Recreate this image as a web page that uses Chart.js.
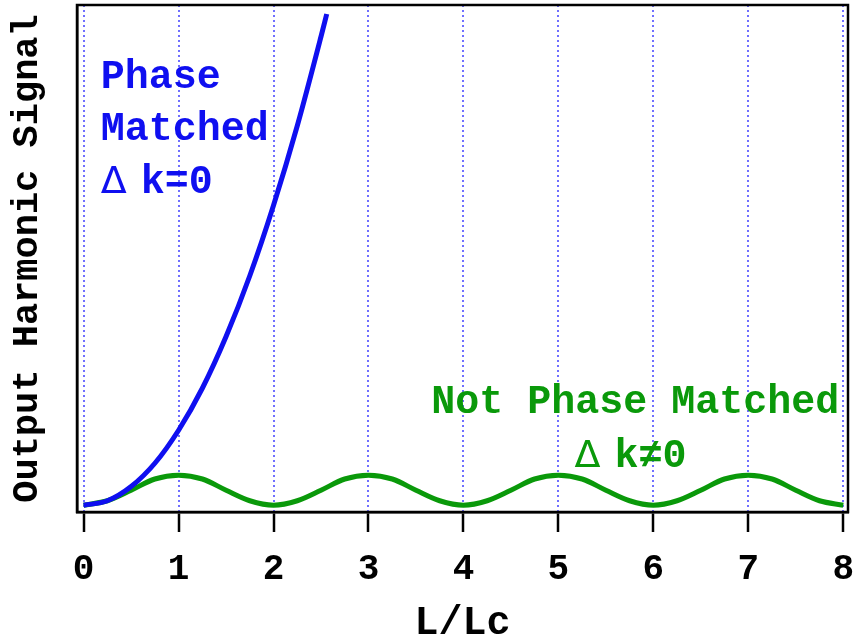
<!DOCTYPE html>
<html>
<head>
<meta charset="utf-8">
<script src="https://cdn.jsdelivr.net/npm/chart.js@4.4.1/dist/chart.umd.min.js"></script>
<style>
  html, body { margin: 0; padding: 0; background: #fff; }
  #wrap { width: 853px; height: 640px; }
</style>
</head>
<body>
<div id="wrap"><canvas id="harm"></canvas></div>
<script>
// values (L/Lc on x, signal in units of Lc^2)
const xTicks = [0, 1, 2, 3, 4, 5, 6, 7, 8];

const xMatched = [0, 0.25, 0.5, 0.75, 1, 1.25, 1.5, 1.75, 2, 2.25, 2.5, 2.56];
const yMatched = [0, 0.06, 0.25, 0.56, 1, 1.56, 2.25, 3.06, 4, 5.06, 6.25, 6.55];

const xNotMatched = [0, 0.25, 0.5, 0.75, 1, 1.25, 1.5, 1.75, 2, 2.25, 2.5, 2.75, 3, 3.25, 3.5, 3.75, 4,
  4.25, 4.5, 4.75, 5, 5.25, 5.5, 5.75, 6, 6.25, 6.5, 6.75, 7, 7.25, 7.5, 7.75, 8];
const yNotMatched = [0, 0.06, 0.2, 0.35, 0.4, 0.35, 0.2, 0.06, 0, 0.06, 0.2, 0.35, 0.4, 0.35, 0.2, 0.06, 0,
  0.06, 0.2, 0.35, 0.4, 0.35, 0.2, 0.06, 0, 0.06, 0.2, 0.35, 0.4, 0.35, 0.2, 0.06, 0];

const BLUE = '#0f0ff0';
const GREEN = '#0a990a';
const MONO = '"Liberation Mono", "DejaVu Sans Mono", monospace';

function pts(xs, ys) {
  let out = [];
  for (let i = 0; i < xs.length; i++) out.push({x: xs[i], y: ys[i]});
  return out;
}

// frame around plot + text labels inside the plot
const decor = {
  id: 'decor',
  afterDatasetsDraw(chart) {
    const ctx = chart.ctx, a = chart.chartArea;
    const sx = chart.scales.x, sy = chart.scales.y;
    ctx.save();
    ctx.strokeStyle = '#000';
    ctx.lineWidth = 2.5;
    ctx.strokeRect(a.left, a.top, a.right - a.left, a.bottom - a.top);

    ctx.textBaseline = 'alphabetic';
    ctx.textAlign = 'left';
    ctx.fillStyle = BLUE;
    ctx.font = 'bold 40px ' + MONO;
    let lx = sx.getPixelForValue(0.18);
    ctx.fillText('Phase', lx, sy.getPixelForValue(5.56));
    ctx.fillText('Matched', lx, sy.getPixelForValue(4.87));
    ctx.font = '38px "DejaVu Sans"';
    ctx.fillText('\u0394', lx, sy.getPixelForValue(4.16));
    ctx.font = 'bold 40px ' + MONO;
    ctx.fillText('k=0', lx + 40, sy.getPixelForValue(4.16));

    ctx.fillStyle = GREEN;
    ctx.textAlign = 'center';
    ctx.fillText('Not Phase Matched', sx.getPixelForValue(5.81), sy.getPixelForValue(1.23));
    let gx = sx.getPixelForValue(5.77);
    ctx.textAlign = 'left';
    ctx.font = '38px "DejaVu Sans"';
    ctx.fillText('\u0394', gx - 57, sy.getPixelForValue(0.51));
    ctx.font = 'bold 40px ' + MONO;
    ctx.fillText('k\u22600', gx - 17, sy.getPixelForValue(0.51));
    ctx.restore();
  }
};

new Chart(document.getElementById('harm'), {
  type: 'line',
  data: {
    datasets: [
      {
        label: 'Phase Matched',
        data: pts(xMatched, yMatched),
        borderColor: BLUE,
        borderWidth: 5,
        pointRadius: 0,
        cubicInterpolationMode: 'monotone',
        fill: false
      },
      {
        label: 'Not Phase Matched',
        data: pts(xNotMatched, yNotMatched),
        borderColor: GREEN,
        borderWidth: 5,
        pointRadius: 0,
        cubicInterpolationMode: 'monotone',
        fill: false
      }
    ]
  },
  options: {
    responsive: true,
    maintainAspectRatio: false,
    animation: false,
    layout: { padding: { top: 5, right: 5, left: 0, bottom: 0 } },
    plugins: { legend: { display: false }, tooltip: { enabled: false } },
    scales: {
      x: {
        type: 'linear',
        min: -0.07,
        max: 8.05,
        afterBuildTicks(scale) { scale.ticks = xTicks.map(v => ({value: v})); },
        afterFit(scale) {
          scale.height = 128;
          scale.paddingLeft = 0;
          scale.paddingRight = 0;
        },
        grid: {
          color: '#6f6fff',
          lineWidth: 2,
          drawTicks: true,
          tickLength: 20,
          tickColor: '#000',
          tickWidth: 2.5,
          tickBorderDash: []
        },
        border: { display: true, color: '#000', width: 2.5, dash: [2, 3] },
        ticks: {
          color: '#000',
          font: { family: MONO, size: 36, weight: 'bold' },
          padding: 16,
          maxRotation: 0
        },
        title: {
          display: true,
          text: 'L/Lc',
          color: '#000',
          font: { family: MONO, size: 40, weight: 'bold', lineHeight: 1 },
          padding: { top: 0, bottom: -4 }
        }
      },
      y: {
        type: 'linear',
        min: -0.09,
        max: 6.67,
        afterFit(scale) { scale.width = 77; },
        grid: { display: false },
        border: { display: true, color: '#000', width: 2.5 },
        ticks: { display: false },
        title: {
          display: true,
          text: 'Output Harmonic Signal',
          color: '#000',
          font: { family: MONO, size: 37, weight: 'bold', lineHeight: 1.2 },
          padding: { top: 5, bottom: 0 }
        }
      }
    }
  },
  plugins: [decor]
});
</script>
</body>
</html>
